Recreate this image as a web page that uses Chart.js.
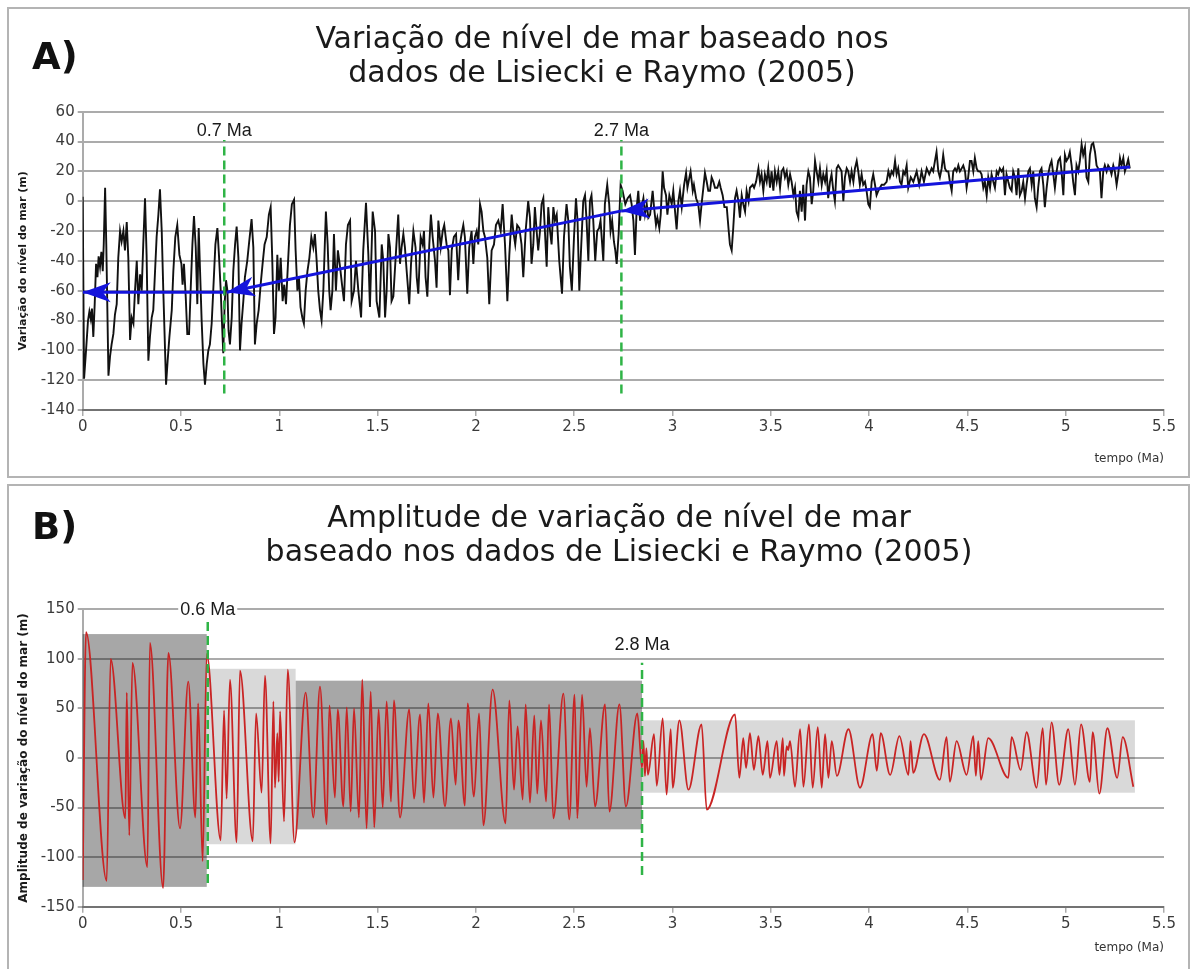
<!DOCTYPE html>
<html>
<head>
<meta charset="utf-8">
<script src="https://cdn.jsdelivr.net/npm/chart.js@4.4.1/dist/chart.umd.min.js"></script>
<style>
  body { margin: 0; background: #fff; width: 1194px; height: 969px; overflow: hidden; position: relative; font-family: "DejaVu Sans", sans-serif; }
  .frame { position: absolute; left: 7px; width: 1183px; border: 2px solid #b4b4b4; box-sizing: border-box; }
  .tag { position: absolute; font: bold 37px "DejaVu Sans"; line-height: 36px; color: #111; }
  .title { position: absolute; left: 0; text-align: center; font: 30px "DejaVu Sans"; line-height: 34px; color: #1a1a1a; }
  canvas { position: absolute; left: 0; }
</style>
</head>
<body>
<div class="frame" style="top:7px;height:471px"></div>
<div class="frame" style="top:484px;height:500px"></div>

<canvas id="chartA" width="1194" height="480" style="top:0"></canvas>
<canvas id="chartB" width="1194" height="486" style="top:483px"></canvas>

<div class="tag" style="left:32px;top:39px">A)</div>
<div class="title" style="top:21px;width:1204px">Variação de nível de mar baseado nos<br>dados de Lisiecki e Raymo (2005)</div>
<div class="tag" style="left:32px;top:509px">B)</div>
<div class="title" style="top:500px;width:1238px">Amplitude de variação de nível de mar<br>baseado nos dados de Lisiecki e Raymo (2005)</div>

<script>
// axes
const xRange = [0, 5.5];
const xStep = 0.5;
const yRangeA = [-140, 60];
const yStepA = 20;
const yRangeB = [-150, 150];
const yStepB = 50;

// A) sea level (m) vs time (Ma)
const seaLevel = [
  [0.000, 3], [0.007, -119], [0.017, -100], [0.027, -80], [0.034, -74], [0.041, -79], [0.047, -72], [0.054, -91],
  [0.061, -69], [0.068, -42], [0.075, -51], [0.081, -37], [0.088, -44], [0.095, -34], [0.102, -47], [0.107, -29],
  [0.114, 9], [0.120, -29], [0.131, -117], [0.139, -104], [0.147, -96], [0.156, -89], [0.164, -76], [0.173, -69],
  [0.181, -38], [0.190, -20], [0.198, -27], [0.207, -20], [0.215, -33], [0.224, -14], [0.232, -38], [0.241, -93],
  [0.249, -78], [0.258, -82], [0.266, -60], [0.275, -40], [0.283, -69], [0.292, -49], [0.300, -60], [0.308, -29],
  [0.317, 2], [0.325, -36], [0.334, -107], [0.342, -91], [0.351, -78], [0.359, -73], [0.368, -47], [0.376, -24],
  [0.385, -9], [0.393, 8], [0.402, -20], [0.410, -60], [0.424, -123], [0.432, -107], [0.441, -91], [0.453, -73],
  [0.461, -47], [0.471, -24], [0.481, -16], [0.492, -36], [0.502, -42], [0.508, -56], [0.515, -42], [0.524, -64],
  [0.532, -89], [0.541, -89], [0.549, -60], [0.558, -29], [0.566, -10], [0.575, -31], [0.583, -69], [0.590, -18],
  [0.597, -47], [0.605, -80], [0.614, -109], [0.622, -123], [0.631, -109], [0.639, -100], [0.647, -96], [0.656, -82],
  [0.664, -60], [0.675, -29], [0.685, -18], [0.693, -36], [0.702, -60], [0.708, -80], [0.715, -102], [0.722, -69],
  [0.729, -53], [0.736, -60], [0.742, -87], [0.749, -96], [0.758, -78], [0.766, -47], [0.775, -29], [0.783, -17],
  [0.792, -38], [0.800, -100], [0.808, -82], [0.817, -67], [0.825, -51], [0.837, -40], [0.847, -27], [0.859, -12],
  [0.868, -31], [0.876, -96], [0.885, -82], [0.895, -73], [0.905, -56], [0.915, -42], [0.925, -29], [0.936, -24],
  [0.947, -9], [0.956, -4], [0.964, -38], [0.973, -89], [0.981, -78], [0.990, -36], [0.998, -60], [1.007, -38],
  [1.017, -67], [1.025, -56], [1.034, -69], [1.044, -42], [1.054, -16], [1.064, -2], [1.075, 1], [1.083, -33],
  [1.092, -60], [1.100, -51], [1.108, -71], [1.117, -78], [1.125, -82], [1.134, -60], [1.143, -47], [1.153, -38],
  [1.163, -24], [1.173, -31], [1.181, -22], [1.190, -40], [1.198, -60], [1.207, -73], [1.215, -80], [1.224, -60],
  [1.231, -31], [1.237, -7], [1.246, -29], [1.254, -60], [1.261, -73], [1.270, -60], [1.278, -22], [1.288, -60],
  [1.298, -33], [1.309, -44], [1.319, -56], [1.329, -67], [1.339, -29], [1.349, -16],
  [1.360, -13], [1.368, -67], [1.380, -60], [1.390, -40], [1.402, -60], [1.416, -78], [1.427, -33], [1.441, -1],
  [1.453, -36], [1.461, -71], [1.475, -7], [1.487, -20], [1.495, -67], [1.509, -78], [1.521, -29], [1.529, -40],
  [1.538, -78], [1.546, -60], [1.555, -22], [1.563, -31], [1.571, -67], [1.580, -64], [1.594, -33], [1.605, -9],
  [1.614, -42], [1.622, -31], [1.631, -22], [1.639, -31], [1.648, -47], [1.661, -69], [1.670, -42], [1.682, -20],
  [1.693, -31], [1.699, -51], [1.707, -62], [1.719, -24], [1.729, -29], [1.736, -20], [1.744, -51], [1.753, -64],
  [1.763, -29], [1.771, -9], [1.780, -24], [1.792, -40], [1.800, -58], [1.809, -13], [1.821, -31], [1.831, -20],
  [1.839, -16], [1.851, -29], [1.860, -33], [1.868, -63], [1.877, -33], [1.888, -24], [1.899, -22], [1.910, -53],
  [1.919, -29], [1.927, -22], [1.936, -16], [1.944, -24], [1.956, -62], [1.966, -31], [1.978, -20], [1.987, -42],
  [1.995, -24], [2.004, -20], [2.012, -29], [2.021, -2], [2.029, -7], [2.038, -20], [2.046, -24], [2.058, -38],
  [2.068, -69], [2.080, -33], [2.092, -29], [2.102, -16], [2.114, -13], [2.126, -20], [2.136, -2], [2.148, -29],
  [2.160, -67], [2.170, -36], [2.182, -9], [2.190, -20], [2.200, -29], [2.210, -16], [2.221, -18], [2.232, -29],
  [2.241, -51], [2.253, -20], [2.266, 0], [2.275, -11], [2.283, -42], [2.292, -29], [2.300, -4], [2.309, -20],
  [2.317, -33], [2.326, -20], [2.334, -2], [2.343, 2], [2.351, -20], [2.360, -44], [2.368, -4], [2.377, -20],
  [2.385, -29], [2.394, -4], [2.402, -13], [2.411, -9], [2.424, -40], [2.438, -62], [2.448, -24], [2.461, -2],
  [2.470, -13], [2.478, -44], [2.488, -60], [2.499, -24], [2.509, 2], [2.517, -13], [2.526, -60], [2.536, -29],
  [2.546, 0], [2.555, 4], [2.563, -13], [2.572, -40], [2.580, 0], [2.588, 4], [2.597, -13], [2.607, -40],
  [2.617, -20], [2.627, -18], [2.634, -13], [2.648, -40], [2.656, -2], [2.668, 11], [2.678, -2], [2.685, -20],
  [2.693, -13], [2.702, -27], [2.709, -33], [2.716, -42], [2.726, -22], [2.736, 11], [2.746, 7], [2.760, -2],
  [2.772, 2], [2.784, 4], [2.792, -2], [2.801, -13], [2.809, -36], [2.818, -4], [2.826, 7], [2.835, -13],
  [2.843, -4], [2.852, 2], [2.860, -9], [2.869, -2], [2.877, -11], [2.886, -9], [2.899, 7], [2.906, -4],
  [2.916, -16], [2.923, -11], [2.933, -18], [2.940, -9], [2.950, 20], [2.957, 9], [2.967, 4], [2.974, -9],
  [2.984, 4], [2.996, -2], [3.004, 7], [3.013, -7], [3.021, -19], [3.030, 0], [3.038, 7], [3.047, -4],
  [3.059, 11], [3.069, 19], [3.076, 9], [3.086, 16], [3.092, 20], [3.103, 7], [3.109, 11], [3.120, 2],
  [3.131, -2], [3.140, -13], [3.148, -2], [3.157, 9], [3.165, 19], [3.174, 13], [3.182, 7], [3.191, 7],
  [3.199, 16], [3.208, 13], [3.216, 9], [3.228, 9], [3.238, 13], [3.245, 9], [3.255, 4], [3.264, -4],
  [3.276, -4], [3.286, -20], [3.292, -29], [3.301, -33], [3.309, -18], [3.318, 2], [3.326, 7], [3.335, 0],
  [3.343, -11], [3.352, 4], [3.360, -2], [3.369, -7], [3.377, 7], [3.387, 0], [3.394, 9], [3.408, 11],
  [3.415, 9], [3.425, 13], [3.437, 22], [3.445, 13], [3.453, 18], [3.462, 7], [3.470, 18], [3.479, 13],
  [3.487, 22], [3.496, 9], [3.504, 20], [3.513, 7], [3.521, 20], [3.530, 13], [3.538, 20], [3.547, 9],
  [3.555, 20], [3.564, 22], [3.572, 16], [3.581, 20], [3.589, 11], [3.598, 18], [3.606, 13], [3.615, 4],
  [3.623, 9], [3.631, -7], [3.640, -11], [3.648, 7], [3.657, -7], [3.665, 11], [3.674, -13], [3.682, 11],
  [3.691, 20], [3.699, 16], [3.708, -2], [3.716, 7], [3.725, 27], [3.733, 20], [3.742, 13], [3.750, 22],
  [3.759, 11], [3.767, 18], [3.776, 13], [3.784, 20], [3.792, 2], [3.801, 13], [3.809, 18], [3.818, 7],
  [3.826, 0], [3.835, 22], [3.843, 24], [3.852, 22], [3.860, 20], [3.869, 0], [3.877, 16], [3.886, 22],
  [3.894, 20], [3.903, 13], [3.911, 20], [3.920, 13], [3.928, 22], [3.937, 27], [3.945, 20], [3.953, 11],
  [3.962, 18], [3.970, 11], [3.979, 13], [3.987, 7], [3.996, -2], [4.004, -4], [4.013, 13], [4.021, 18],
  [4.030, 11], [4.038, 4], [4.047, 7], [4.055, 9], [4.064, 11], [4.076, 11], [4.089, 13], [4.098, 20],
  [4.106, 16], [4.115, 20], [4.123, 18], [4.132, 27], [4.140, 18], [4.148, 22], [4.157, 13], [4.165, 11],
  [4.174, 20], [4.182, 18], [4.191, 24], [4.199, 9], [4.212, 16], [4.225, 13], [4.242, 20], [4.255, 11],
  [4.267, 20], [4.279, 13], [4.293, 22], [4.306, 18], [4.318, 22], [4.326, 20], [4.335, 27], [4.343, 33],
  [4.352, 20], [4.360, 16], [4.369, 22], [4.377, 31], [4.386, 22], [4.394, 20], [4.403, 20], [4.411, 13],
  [4.420, 7], [4.428, 20], [4.437, 22], [4.445, 20], [4.454, 24], [4.462, 20], [4.471, 22], [4.479, 24],
  [4.488, 20], [4.496, 9], [4.504, 16], [4.513, 27], [4.521, 27], [4.530, 20], [4.538, 29], [4.547, 22],
  [4.555, 20], [4.564, 20], [4.572, 18], [4.581, 9], [4.589, 13], [4.598, 4], [4.606, 16], [4.615, 9],
  [4.623, 18], [4.632, 13], [4.640, 9], [4.649, 20], [4.657, 18], [4.665, 22], [4.674, 20], [4.682, 22],
  [4.691, 4], [4.699, 18], [4.708, 13], [4.716, 9], [4.725, 7], [4.733, 20], [4.742, 16], [4.750, 4],
  [4.759, 22], [4.767, 4], [4.776, 7], [4.784, 13], [4.793, 2], [4.801, 11], [4.810, 20], [4.818, 22],
  [4.827, 11], [4.835, 20], [4.843, 2], [4.852, -4], [4.860, 9], [4.869, 20], [4.877, 22], [4.886, 11],
  [4.894, -4], [4.903, 9], [4.911, 18], [4.920, 24], [4.928, 27], [4.937, 18], [4.945, 9], [4.954, 20],
  [4.962, 27], [4.971, 29], [4.979, 20], [4.988, 4], [4.996, 31], [5.004, 27], [5.013, 29], [5.021, 33],
  [5.030, 24], [5.038, 13], [5.047, 4], [5.055, 24], [5.064, 20], [5.072, 27], [5.081, 38], [5.089, 31],
  [5.098, 36], [5.106, 16], [5.115, 13], [5.123, 31], [5.132, 38], [5.140, 39], [5.149, 33], [5.157, 24],
  [5.165, 22], [5.174, 20], [5.182, 2], [5.191, 20], [5.199, 24], [5.208, 20], [5.216, 24], [5.225, 22],
  [5.233, 18], [5.242, 24], [5.250, 20], [5.259, 11], [5.267, 18], [5.276, 29], [5.284, 24], [5.293, 29],
  [5.301, 20], [5.310, 24], [5.318, 28], [5.326, 22]
];

// B) amplitude (m) vs time (Ma): turning points of the filtered curve
const amplitude = [
  [0.000, -123], [0.017, 127], [0.122, -124], [0.142, 100], [0.217, -61], [0.224, 66], [0.237, -78], [0.253, 96],
  [0.329, -110], [0.342, 116], [0.409, -131], [0.436, 106], [0.495, -71], [0.537, 77], [0.573, -60], [0.587, 55],
  [0.610, -104], [0.631, 105], [0.702, -83], [0.719, 48], [0.732, -41], [0.749, 79], [0.783, -85], [0.800, 88],
  [0.865, -84], [0.882, 45], [0.910, -35], [0.927, 83], [0.956, -86], [0.970, 57], [0.978, -30], [0.990, 25],
  [0.997, -24], [1.004, 47], [1.024, -64], [1.043, 89], [1.077, -85], [1.134, 66], [1.173, -60], [1.207, 72],
  [1.241, -67], [1.255, 53], [1.283, -40], [1.297, 49], [1.326, -49], [1.343, 51], [1.363, -54], [1.380, 50],
  [1.405, -60], [1.422, 79], [1.444, -71], [1.465, 67], [1.483, -70], [1.505, 49], [1.526, -50], [1.546, 57],
  [1.568, -44], [1.583, 58], [1.614, -60], [1.661, 49], [1.685, -41], [1.716, 44], [1.736, -45], [1.758, 55],
  [1.784, -40], [1.806, 45], [1.843, -49], [1.873, 40], [1.897, -27], [1.911, 38], [1.944, -48], [1.958, 55],
  [1.990, -39], [2.016, 45], [2.038, -68], [2.085, 69], [2.151, -66], [2.170, 58], [2.194, -32], [2.212, 32],
  [2.238, -42], [2.253, 54], [2.275, -45], [2.297, 43], [2.312, -36], [2.331, 38], [2.357, -44], [2.372, 54],
  [2.394, -61], [2.445, 65], [2.475, -62], [2.502, 64], [2.516, -61], [2.540, 64], [2.563, -29], [2.580, 30],
  [2.606, -49], [2.657, 54], [2.679, -54], [2.730, 54], [2.763, -49], [2.821, 45], [2.845, -10], [2.852, 17],
  [2.860, -18], [2.867, 10], [2.875, -17], [2.906, 24], [2.920, -28], [2.950, 40], [2.970, -37], [2.991, 29],
  [3.001, -30], [3.035, 38], [3.081, -32], [3.148, 34], [3.174, -52], [3.318, 44], [3.340, -20], [3.360, 20],
  [3.374, -10], [3.394, 25], [3.414, -12], [3.437, 22], [3.459, -17], [3.483, 17], [3.496, -20], [3.530, 17],
  [3.544, -17], [3.561, 20], [3.567, -18], [3.581, 12], [3.588, 8], [3.598, 17], [3.623, -29], [3.649, 29],
  [3.666, -29], [3.694, 34], [3.713, -30], [3.739, 31], [3.759, -30], [3.776, 24], [3.793, -20], [3.810, 17],
  [3.836, -18], [3.895, 29], [3.954, -30], [4.018, 24], [4.039, -13], [4.059, 25], [4.107, -17], [4.154, 22],
  [4.200, -17], [4.211, 17], [4.224, -15], [4.279, 24], [4.360, -22], [4.394, 21], [4.411, -24], [4.445, 17],
  [4.496, -17], [4.530, 22], [4.543, -18], [4.555, 17], [4.569, -22], [4.606, 20], [4.708, -20], [4.725, 21],
  [4.771, -12], [4.801, 26], [4.852, -30], [4.883, 30], [4.900, -27], [4.928, 36], [4.967, -27], [5.013, 29],
  [5.047, -27], [5.078, 34], [5.123, -24], [5.137, 26], [5.171, -36], [5.212, 30], [5.262, -20], [5.290, 21],
  [5.344, -29]
];

// amplitude bands in B
const bandStart = [0, 0.631, 1.083, 2.845];
const bandEnd = [0.631, 1.083, 2.845, 5.352];
const bandLow = [-130, -87, -72, -35];
const bandHigh = [125, 90, 78, 38];

// vertical markers
const cutsA = [0.72, 2.74];
const cutLabelsA = ['0.7 Ma', '2.7 Ma'];
const cutLowA = [-129, -129];
const cutHighA = [41, 41];
const cutLabelYA = [48, 48];

const cutsB = [0.636, 2.845];
const cutLabelsB = ['0.6 Ma', '2.8 Ma'];
const cutLowB = [-126, -118];
const cutHighB = [140, 96];
const cutLabelYB = [150, 115];

// trend arrows in A: [from, to]
const trendArrows = [
  [[5.327, 23], [2.741, -6.5]],
  [[2.741, -6.5], [0.733, -61]],
  [[0.715, -61], [0, -61]]
];

const GRID = 'rgba(0,0,0,0.33)';
const GREEN = '#2fb446';
const BLUE = '#1414dc';

const bandPlugin = {
  id: 'bands',
  beforeDraw(chart) {
    const { ctx, scales: { x, y } } = chart;
    ctx.save();
    bandStart.forEach((s, i) => {
      const left = x.getPixelForValue(s);
      const right = x.getPixelForValue(bandEnd[i]);
      const top = y.getPixelForValue(bandHigh[i]);
      const bottom = y.getPixelForValue(bandLow[i]);
      ctx.fillStyle = i % 2 === 0 ? '#a7a7a7' : '#d9d9d9';
      ctx.fillRect(left, top, right - left, bottom - top);
    });
    ctx.restore();
  }
};

function cutLabelPlugin(xs, labels, ys) {
  return {
    id: 'cutLabels',
    afterDatasetsDraw(chart) {
      const { ctx, scales: { x, y } } = chart;
      ctx.save();
      ctx.font = '18px "Liberation Sans", Arial, sans-serif';
      ctx.textAlign = 'center';
      ctx.textBaseline = 'middle';
      xs.forEach((v, i) => {
        const px = x.getPixelForValue(v);
        const py = y.getPixelForValue(ys[i]);
        const w = ctx.measureText(labels[i]).width;
        ctx.fillStyle = '#fff';
        ctx.fillRect(px - w / 2 - 2, py - 9, w + 4, 18);
        ctx.fillStyle = '#1a1a1a';
        ctx.fillText(labels[i], px, py + 1);
      });
      ctx.restore();
    }
  };
}

const arrowHeadPlugin = {
  id: 'arrowHeads',
  afterDatasetsDraw(chart) {
    const ctx = chart.ctx;
    chart.data.datasets.forEach((ds, i) => {
      if (!ds.arrowHead) return;
      const pts = chart.getDatasetMeta(i).data;
      const a = pts[pts.length - 2], b = pts[pts.length - 1];
      const ang = Math.atan2(b.y - a.y, b.x - a.x);
      ctx.save();
      ctx.translate(b.x, b.y);
      ctx.rotate(ang);
      ctx.beginPath();
      ctx.moveTo(0, 0);
      ctx.lineTo(-28, -10);
      ctx.lineTo(-20, 0);
      ctx.lineTo(-28, 10);
      ctx.closePath();
      ctx.fillStyle = BLUE;
      ctx.fill();
      ctx.restore();
    });
  }
};

function toPoints(pairs) {
  return pairs.map(p => ({ x: p[0], y: p[1] }));
}

function markerSets(xs, lows, highs) {
  return xs.map((v, i) => ({
    data: [{ x: v, y: lows[i] }, { x: v, y: highs[i] }],
    borderColor: GREEN,
    borderWidth: 2.5,
    borderDash: [9, 5],
    pointRadius: 0,
    order: 2
  }));
}

function makeOptions(yRange, yStep, yTitle, yTitleSize, padTop, padBottom, xHeight) {
  return {
    responsive: false,
    animation: false,
    devicePixelRatio: 1,
    layout: { padding: { top: padTop, bottom: padBottom, left: 0, right: 30 } },
    plugins: { legend: { display: false }, tooltip: { enabled: false } },
    elements: { line: { tension: 0 }, point: { radius: 0 } },
    scales: {
      x: {
        type: 'linear',
        min: xRange[0],
        max: xRange[1],
        ticks: { stepSize: xStep, color: '#3a3a3a', font: { family: 'DejaVu Sans', size: 15 }, padding: 2, maxRotation: 0, callback: v => String(v) },
        grid: { drawOnChartArea: false, drawTicks: true, tickLength: 6, color: GRID, lineWidth: 1.5 },
        border: { display: true, color: GRID, width: 2 },
        title: { display: true, text: 'tempo (Ma)', align: 'end', color: '#333', font: { family: 'DejaVu Sans', size: 12 }, padding: { top: 0, bottom: 4 } },
        afterFit: s => { s.height = xHeight; }
      },
      y: {
        min: yRange[0],
        max: yRange[1],
        ticks: { stepSize: yStep, color: '#3a3a3a', font: { family: 'DejaVu Sans', size: 15 }, padding: 3, callback: v => String(v) },
        grid: { color: GRID, lineWidth: 2, drawTicks: true, tickLength: 5 },
        border: { display: true, color: GRID, width: 2 },
        title: { display: true, text: yTitle, color: '#1a1a1a', font: { family: 'DejaVu Sans', size: yTitleSize, weight: 'bold' }, padding: { top: 17, bottom: 0 } },
        afterFit: s => { s.width = 82.7; }
      }
    }
  };
}

// chart A
new Chart(document.getElementById('chartA'), {
  type: 'line',
  data: {
    datasets: [
      ...trendArrows.map(seg => ({
        data: toPoints(seg),
        borderColor: BLUE,
        borderWidth: 3,
        pointRadius: 0,
        arrowHead: true,
        order: 1
      })),
      ...markerSets(cutsA, cutLowA, cutHighA),
      {
        data: toPoints(seaLevel),
        borderColor: '#111',
        borderWidth: 1.9,
        pointRadius: 0,
        order: 3
      }
    ]
  },
  options: makeOptions(yRangeA, yStepA, 'Variação do nível do mar (m)', 11, 111.7, 10, 60),
  plugins: [cutLabelPlugin(cutsA, cutLabelsA, cutLabelYA), arrowHeadPlugin]
});

// chart B
new Chart(document.getElementById('chartB'), {
  type: 'line',
  data: {
    datasets: [
      ...markerSets(cutsB, cutLowB, cutHighB),
      {
        data: toPoints(amplitude),
        borderColor: '#c92424',
        borderWidth: 1.8,
        pointRadius: 0,
        cubicInterpolationMode: 'monotone',
        order: 3
      }
    ]
  },
  options: makeOptions(yRangeB, yStepB, 'Amplitude de variação do nível do mar (m)', 12, 126.3, 10.3, 52),
  plugins: [bandPlugin, cutLabelPlugin(cutsB, cutLabelsB, cutLabelYB)]
});
</script>
</body>
</html>
